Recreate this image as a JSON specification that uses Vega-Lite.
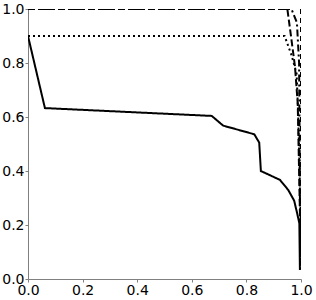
{
  "$schema": "https://vega.github.io/schema/vega-lite/v6.json",
  "width": 273,
  "height": 270,
  "autosize": {"type": "none"},
  "padding": {"left": 28, "top": 9, "right": 15, "bottom": 21},
  "background": "white",
  "config": {"view": {"stroke": null}, "font": "DejaVu Sans"},
  "data": {"values": [
    {"s": "a", "o": 0, "x": 0.0, "y": 0.9},
    {"s": "a", "o": 1, "x": 0.062, "y": 0.633},
    {"s": "a", "o": 2, "x": 0.673, "y": 0.604},
    {"s": "a", "o": 3, "x": 0.715, "y": 0.568},
    {"s": "a", "o": 4, "x": 0.829, "y": 0.536},
    {"s": "a", "o": 5, "x": 0.847, "y": 0.505},
    {"s": "a", "o": 6, "x": 0.853, "y": 0.4},
    {"s": "a", "o": 7, "x": 0.923, "y": 0.367},
    {"s": "a", "o": 8, "x": 0.953, "y": 0.33},
    {"s": "a", "o": 9, "x": 0.975, "y": 0.29},
    {"s": "a", "o": 10, "x": 0.986, "y": 0.243},
    {"s": "a", "o": 11, "x": 0.994, "y": 0.206},
    {"s": "a", "o": 12, "x": 0.996, "y": 0.033},
    {"s": "b", "o": 0, "x": 0.0, "y": 0.9},
    {"s": "b", "o": 1, "x": 0.94, "y": 0.9},
    {"s": "b", "o": 2, "x": 0.965, "y": 0.83},
    {"s": "b", "o": 3, "x": 0.984, "y": 0.76},
    {"s": "b", "o": 4, "x": 0.99, "y": 0.6},
    {"s": "b", "o": 5, "x": 0.995, "y": 0.4},
    {"s": "b", "o": 6, "x": 0.998, "y": 0.2},
    {"s": "b", "o": 7, "x": 0.999, "y": 0.03},
    {"s": "c", "o": 0, "x": 0.0, "y": 1.0},
    {"s": "c", "o": 1, "x": 0.95, "y": 1.0},
    {"s": "c", "o": 2, "x": 0.962, "y": 0.91},
    {"s": "c", "o": 3, "x": 0.978, "y": 0.786},
    {"s": "c", "o": 4, "x": 0.988, "y": 0.65},
    {"s": "c", "o": 5, "x": 0.992, "y": 0.45},
    {"s": "c", "o": 6, "x": 0.996, "y": 0.25},
    {"s": "c", "o": 7, "x": 0.998, "y": 0.05},
    {"s": "d", "o": 0, "x": 0.0, "y": 1.0},
    {"s": "d", "o": 1, "x": 0.965, "y": 1.0},
    {"s": "d", "o": 2, "x": 0.985, "y": 0.95},
    {"s": "d", "o": 3, "x": 0.993, "y": 0.8},
    {"s": "d", "o": 4, "x": 0.995, "y": 0.5},
    {"s": "d", "o": 5, "x": 0.997, "y": 0.1},
    {"s": "e", "o": 0, "x": 1.0, "y": 1.0},
    {"s": "e", "o": 1, "x": 1.0, "y": 0.5},
    {"s": "e", "o": 2, "x": 1.0, "y": 0.05}
  ]},
  "mark": {"type": "line", "clip": true, "color": "black", "strokeWidth": 2},
  "encoding": {
    "x": {"field": "x", "type": "quantitative", "scale": {"domain": [0, 1], "nice": false, "zero": false},
      "axis": {"values": [0, 0.2, 0.4, 0.6, 0.8, 1.0], "format": ".1f", "title": null, "grid": false,
        "domainColor": "#808080", "tickColor": "#808080", "tickSize": 3, "labelFontSize": 14, "labelColor": "black", "labelPadding": 1, "labelFlush": false}},
    "y": {"field": "y", "type": "quantitative", "scale": {"domain": [0, 1], "nice": false, "zero": false},
      "axis": {"values": [0, 0.2, 0.4, 0.6, 0.8, 1.0], "format": ".1f", "title": null, "grid": false,
        "domainColor": "#808080", "tickColor": "#808080", "tickSize": 3, "labelFontSize": 14, "labelColor": "black", "labelPadding": 1, "labelFlush": false}},
    "order": {"field": "o", "type": "quantitative"},
    "strokeDash": {"field": "s", "type": "nominal", "legend": null,
      "scale": {"domain": ["a", "b", "c", "d", "e"], "range": [[1, 0], [2, 3], [7, 3], [7, 3, 2, 3], [5, 4]]}}
  }
}
